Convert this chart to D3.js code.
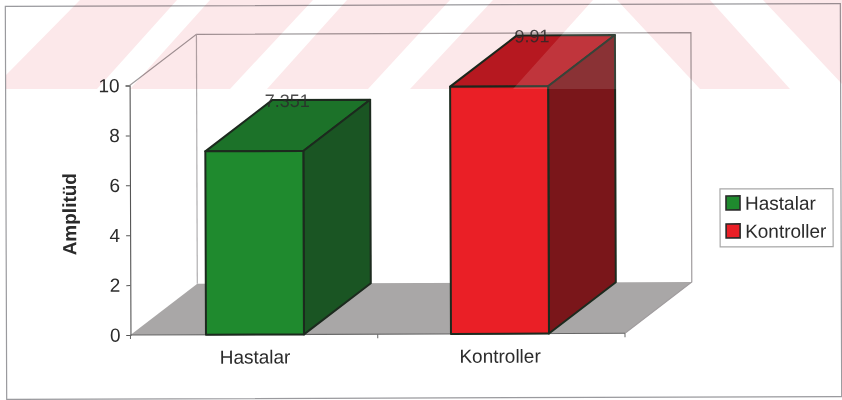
<!DOCTYPE html>
<html>
<head>
<meta charset="utf-8">
<script src="https://cdn.jsdelivr.net/npm/d3@7/dist/d3.min.js"></script>
<style>
html,body{margin:0;padding:0;background:#fff}
svg{display:block}
text{font-family:"Liberation Sans",Arial,sans-serif;fill:#2b2b2b}
</style>
</head>
<body>
<svg id="chart" width="842" height="400"></svg>
<script>
const categories = ["Hastalar", "Kontroller"];
const values = [7.351, 9.91];
const valueLabels = ["7.351", "9.91"];
const yTicks = [0, 2, 4, 6, 8, 10];
const yTitle = "Amplitüd";
const frontColors = ["#1f8a2e", "#ea1f26"];
const sideColors = ["#1a5523", "#7a161a"];
const topColors = ["#1c7229", "#b81a22"];

const svg = d3.select("#chart");
const width = 842, height = 400;
const root = svg.append("g").attr("transform", `rotate(-0.2 ${width / 2} ${height / 2})`);

// Oblique projection: the depth of the box is a fixed screen offset
const depth = { x: 67, y: -51 };
const plot = { left: 130, right: 624.5, top: 84.5, bottom: 334 };

const y = d3.scaleLinear().domain([0, 10]).range([plot.bottom, plot.top]);
const x = d3.scaleBand().domain(categories).range([132, 622]).paddingInner(0.6).paddingOuter(0.3);
const poly = pts => pts.map(p => p.join(",")).join(" ");

// Page frame
root.append("rect").attr("x", 6).attr("y", 5).attr("width", 835).attr("height", 393)
  .attr("fill", "#fff").attr("stroke", "#9a9a9e").attr("stroke-width", 1.2);

// Back wall, side wall and floor
const wall = root.append("g");
wall.append("polygon")
  .attr("points", poly([[plot.left, plot.bottom], [plot.left + depth.x, plot.bottom + depth.y],
    [plot.right + depth.x, plot.bottom + depth.y], [plot.right, plot.bottom]]))
  .attr("fill", "#a9a7a7");
wall.append("polyline")
  .attr("points", poly([[plot.left, plot.top], [plot.left + depth.x, plot.top + depth.y],
    [plot.right + depth.x, plot.top + depth.y], [plot.right + depth.x, plot.bottom + depth.y],
    [plot.right, plot.bottom]]))
  .attr("fill", "none").attr("stroke", "#a09c9e").attr("stroke-width", 1.2);
wall.append("line")
  .attr("x1", plot.left + depth.x).attr("x2", plot.left + depth.x)
  .attr("y1", plot.top + depth.y).attr("y2", plot.bottom + depth.y)
  .attr("stroke", "#b0aeb0").attr("stroke-width", 1.2);

// Value axis
const yAxis = root.append("g").attr("transform", `translate(${plot.left},0)`)
  .call(d3.axisLeft(y).tickValues(yTicks).tickSize(4).tickPadding(6));
yAxis.select(".domain").attr("stroke", "#555").attr("stroke-width", 1.1);
yAxis.selectAll(".tick line").attr("stroke", "#555");
yAxis.selectAll("text").style("font-size", "19px");

// Category axis
const xAxis = root.append("g").attr("transform", `translate(0,${plot.bottom})`);
xAxis.append("line").attr("x1", plot.left).attr("x2", plot.right).attr("stroke", "#666").attr("stroke-width", 1.1);
[0, 1, 2].forEach(i => {
  const tx = plot.left + i * (plot.right - plot.left) / 2;
  xAxis.append("line").attr("x1", tx).attr("x2", tx).attr("y1", 0).attr("y2", 4).attr("stroke", "#666");
});
xAxis.selectAll("text.cat").data(categories).join("text").attr("class", "cat")
  .attr("x", d => x(d) + x.bandwidth() / 2).attr("y", 29)
  .attr("text-anchor", "middle").style("font-size", "19px").text(d => d);

// Bars as three-faced boxes
const bars = root.append("g").selectAll("g").data(categories).join("g");
bars.each(function (c, i) {
  const g = d3.select(this);
  const x0 = x(c), x1 = x0 + x.bandwidth(), yv = y(values[i]), y0 = y(0);
  const face = (pts, fill) => g.append("polygon").attr("points", poly(pts)).attr("fill", fill)
    .attr("stroke", "#1c2a1e").attr("stroke-width", 2).attr("stroke-linejoin", "round");
  face([[x0, yv], [x1, yv], [x1 + depth.x, yv + depth.y], [x0 + depth.x, yv + depth.y]], topColors[i]);
  face([[x1, yv], [x1 + depth.x, yv + depth.y], [x1 + depth.x, y0 + depth.y], [x1, y0]], sideColors[i]);
  face([[x0, yv], [x1, yv], [x1, y0], [x0, y0]], frontColors[i]);
  g.append("text").attr("x", x0 + 82).attr("y", yv - 44)
    .attr("text-anchor", "middle").style("font-size", "18px").attr("fill-opacity", 0.85).text(valueLabels[i]);
});

// Axis title
root.append("text").attr("transform", "translate(76,213) rotate(-90)")
  .attr("text-anchor", "middle").style("font-size", "19px").style("font-weight", "bold").text(yTitle);

// Legend
const legend = root.append("g").attr("transform", "translate(720,190)");
legend.append("rect").attr("width", 113).attr("height", 58).attr("fill", "#fff")
  .attr("stroke", "#a8a8a8").attr("stroke-width", 1.2);
categories.forEach((c, i) => {
  const row = legend.append("g").attr("transform", `translate(0,${14 + i * 28})`);
  row.append("rect").attr("x", 6).attr("y", -7).attr("width", 14).attr("height", 14)
    .attr("fill", frontColors[i]).attr("stroke", "#2a2a2a").attr("stroke-width", 1.6);
  row.append("text").attr("x", 25).attr("y", 7).style("font-size", "19px").text(c);
});

// Pale letterhead band printed over the top of the page: pink chevron stripes
// tint what lies under them, the gap at the apex lightens dark ink
const stripes = [
  [[80, 0], [177, 0], [97, 89], [6, 89], [6, 75]],
  [[210, 0], [313, 0], [230, 89], [130, 89]],
  [[347, 0], [450, 0], [368, 89], [267, 89]],
  [[493, 0], [593, 0], [513, 89], [410, 89]],
  [[617, 0], [710, 0], [790, 89], [700, 89]],
  [[763, 0], [842, 0], [842, 84]]
];
const apexGap = [[593, 0], [617, 0], [700, 89], [513, 89]];
const overlay = svg.append("g");
overlay.selectAll("polygon.stripe").data(stripes).join("polygon").attr("class", "stripe")
  .attr("points", poly).attr("fill", "#fce8ea").style("mix-blend-mode", "multiply");
overlay.append("polygon").attr("points", poly(apexGap))
  .attr("fill", "#fff").attr("fill-opacity", 0.12);
</script>
</body>
</html>
